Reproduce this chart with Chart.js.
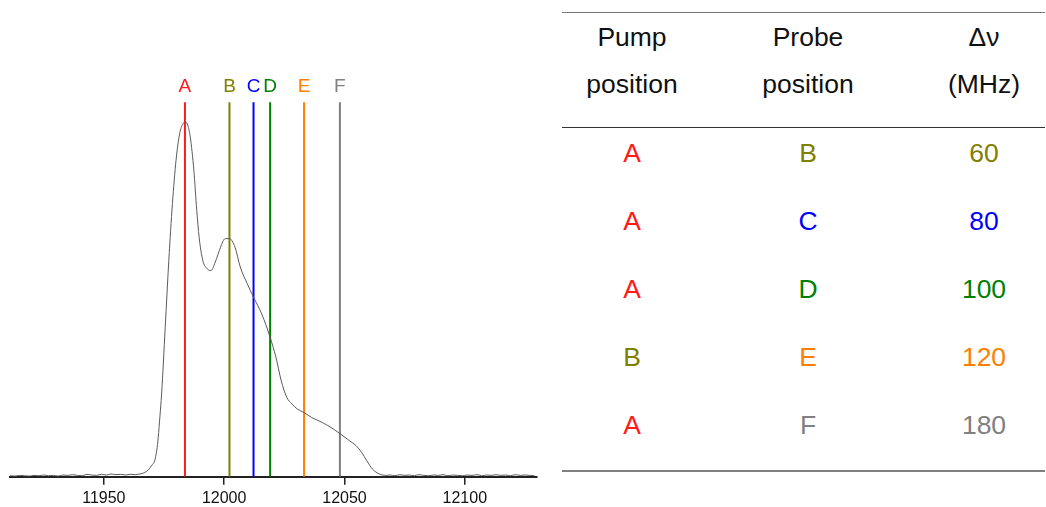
<!DOCTYPE html>
<html>
<head>
<meta charset="utf-8">
<script src="https://cdn.jsdelivr.net/npm/chart.js@4"></script>
<style>
  body { margin: 0; background: #fff; font-family: "Liberation Sans", Arial, sans-serif; }
  #wrap { position: relative; width: 1046px; height: 507px; overflow: hidden; }
  #plot { position: absolute; left: 0; top: 0; }
  .rule { position: absolute; left: 562px; width: 483px; height: 1.5px; }
  .cell { position: absolute; transform: translate(-50%, -50%); font-size: 26.5px; line-height: 1; white-space: nowrap; }
</style>
</head>
<body>
<div id="wrap">
  <canvas id="plot" width="546" height="507"></canvas>
  <div id="table"></div>
</div>
<script>
// spectrum (normalised to the main peak)
const specX = [11911, 11913, 11915, 11917, 11919, 11921, 11923, 11925, 11927, 11929,
  11931, 11933, 11935, 11937, 11939, 11941, 11943, 11945, 11947, 11949,
  11951, 11953, 11955, 11957, 11959, 11961, 11963, 11965, 11967, 11968.5,
  11970, 11971.1, 11972, 11972.6, 11973.3, 11974, 11975.5, 11977, 11978.5, 11980,
  11981.5, 11982.9, 11983.7, 11984.7, 11985.9, 11987.4, 11988.6, 11989.6, 11991.1, 11993,
  11994.5, 11996.3, 11998.5, 12000.4, 12002.2, 12004.5, 12006.7, 12009.6, 12012.2, 12015.6,
  12019.1, 12021.5, 12023.7, 12026, 12028.2, 12030.4, 12033.2, 12036.4, 12040.8, 12045.3,
  12048.1, 12051.2, 12054.9, 12057.1, 12059.3, 12061.6, 12064.5, 12067.5, 12069, 12071,
  12073, 12075, 12077, 12079, 12081, 12083, 12085, 12087, 12089, 12091,
  12093, 12095, 12097, 12099, 12101, 12103, 12105, 12107, 12109, 12111,
  12113, 12115, 12117, 12119, 12121, 12123, 12125, 12127, 12129];
const specY = [0.003, 0.002, 0.004, 0.003, 0.002, 0.004, 0.003, 0.005, 0.003, 0.004,
  0.002, 0.005, 0.004, 0.006, 0.004, 0.003, 0.007, 0.005, 0.004, 0.007,
  0.005, 0.008, 0.006, 0.007, 0.005, 0.007, 0.006, 0.008, 0.012, 0.02,
  0.033, 0.045, 0.075, 0.111, 0.17, 0.233, 0.421, 0.61, 0.77, 0.892,
  0.967, 0.995, 1.0, 0.994, 0.958, 0.864, 0.751, 0.675, 0.61, 0.586,
  0.581, 0.605, 0.647, 0.671, 0.671, 0.647, 0.591, 0.544, 0.506, 0.459,
  0.393, 0.337, 0.271, 0.224, 0.205, 0.191, 0.181, 0.167, 0.153, 0.135,
  0.122, 0.106, 0.087, 0.069, 0.045, 0.022, 0.008, 0.004, 0.005, 0.003,
  0.006, 0.004, 0.005, 0.003, 0.006, 0.004, 0.003, 0.005, 0.004, 0.006,
  0.003, 0.005, 0.004, 0.003, 0.005, 0.004, 0.006, 0.003, 0.005, 0.004,
  0.006, 0.004, 0.005, 0.003, 0.006, 0.004, 0.005, 0.004, 0.003];

const xTicks = [11950, 12000, 12050, 12100];

const markerNames = ['A', 'B', 'C', 'D', 'E', 'F'];
const markerPos = [11983.7, 12002.2, 12012.2, 12019.1, 12033.2, 12048.1];

// table
const pumpPos = ['A', 'A', 'A', 'B', 'A'];
const probePos = ['B', 'C', 'D', 'E', 'F'];
const deltaNu = [60, 80, 100, 120, 180];

const letterColor = {A: '#ff1a1a', B: '#808000', C: '#0000ff', D: '#008000', E: '#ff8000', F: '#808080'};

const lineTop = 1.0556;
const labelLevel = 1.098;

Chart.defaults.font.family = '"Liberation Sans", Arial, sans-serif';

const markerSets = markerNames.map((n, i) => ({
  label: n,
  data: [{x: markerPos[i], y: 0}, {x: markerPos[i], y: lineTop}],
  borderColor: letterColor[n],
  borderWidth: 2,
  pointRadius: 0,
  isMarker: true,
  order: 2
}));

const markerLabels = {
  id: 'markerLabels',
  afterDatasetsDraw(chart) {
    const ctx = chart.ctx;
    const ys = chart.scales.y;
    ctx.save();
    ctx.font = '19px "Liberation Sans", Arial, sans-serif';
    ctx.textAlign = 'center';
    ctx.textBaseline = 'middle';
    chart.data.datasets.forEach((ds, i) => {
      if (!ds.isMarker) return;
      const pt = chart.getDatasetMeta(i).data[1];
      ctx.fillStyle = ds.borderColor;
      ctx.fillText(ds.label, pt.x, ys.getPixelForValue(labelLevel));
    });
    ctx.restore();
  }
};

new Chart(document.getElementById('plot'), {
  type: 'line',
  data: {
    datasets: [{
      label: 'spectrum',
      data: specX.map((x, i) => ({x: x, y: specY[i]})),
      borderColor: '#5a5a5a',
      borderWidth: 1,
      pointRadius: 0,
      cubicInterpolationMode: 'monotone',
      order: 1
    }].concat(markerSets)
  },
  options: {
    responsive: false,
    animation: false,
    layout: { padding: { left: 10, right: 9, top: 0, bottom: -5 } },
    plugins: { legend: { display: false }, tooltip: { enabled: false } },
    scales: {
      x: {
        type: 'linear',
        min: 11911,
        max: 12130,
        afterBuildTicks: (scale) => { scale.ticks = xTicks.map(v => ({value: v})); },
        grid: { drawOnChartArea: false, drawTicks: true, tickLength: 8, color: '#222', lineWidth: 1.5 },
        border: { color: '#222', width: 2 },
        ticks: { color: '#111', padding: 4, font: { size: 16 }, callback: v => String(v), maxRotation: 0 }
      },
      y: {
        display: false,
        min: 0,
        max: 1.3435
      }
    }
  },
  plugins: [markerLabels]
});

// table drawn as text
const tbl = document.getElementById('table');
function rule(y, color) {
  const d = document.createElement('div');
  d.className = 'rule';
  d.style.top = y + 'px';
  d.style.background = color;
  tbl.appendChild(d);
}
function cell(x, y, html, color) {
  const d = document.createElement('div');
  d.className = 'cell';
  d.style.left = x + 'px';
  d.style.top = y + 'px';
  d.style.color = color;
  d.innerHTML = html;
  tbl.appendChild(d);
}
const colX = [632, 808, 984];
rule(11.5, '#777');
rule(126.5, '#333');
rule(470, '#808080');
cell(colX[0], 37, 'Pump', '#111');
cell(colX[0], 84, 'position', '#111');
cell(colX[1], 37, 'Probe', '#111');
cell(colX[1], 84, 'position', '#111');
cell(colX[2], 37, '&Delta;&nu;', '#111');
cell(colX[2], 84, '(MHz)', '#111');
const rowY = [152.5, 220.5, 288.5, 357, 425];
pumpPos.forEach((p, i) => {
  cell(colX[0], rowY[i], p, letterColor[p]);
  cell(colX[1], rowY[i], probePos[i], letterColor[probePos[i]]);
  cell(colX[2], rowY[i], String(deltaNu[i]), letterColor[probePos[i]]);
});
</script>
</body>
</html>
